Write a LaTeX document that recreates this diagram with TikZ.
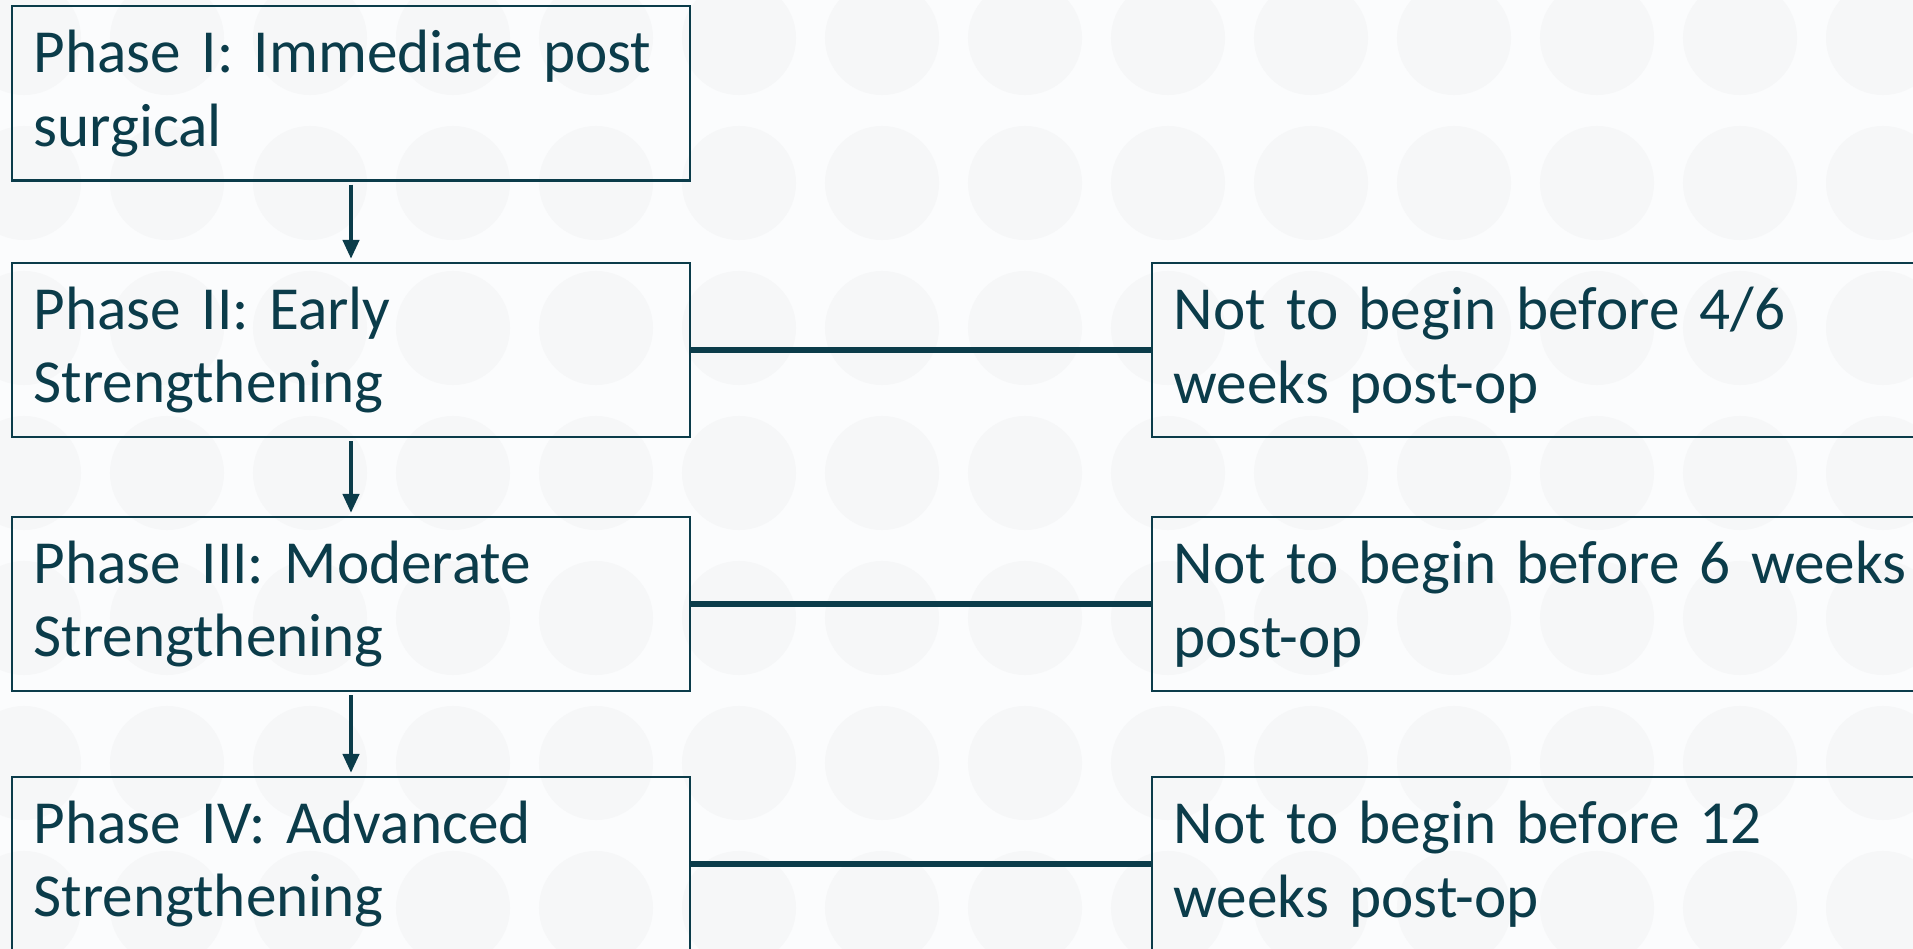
\documentclass[tikz,border=0pt]{standalone}
\usepackage{fontspec}
\setmainfont{Carlito}
\usepackage{tikz}
\usetikzlibrary{arrows.meta,positioning}

\definecolor{phaseink}{HTML}{0B3C4A}
\definecolor{slidebg}{HTML}{FBFCFD}
\definecolor{dotgray}{HTML}{F6F7F8}

\tikzset{
    phasebox/.style={draw=phaseink,line width=0.6pt,text=phaseink,
        minimum width=6.78cm,minimum height=1.74cm,
        text width=6.34cm,inner xsep=0.22cm,align=left,
        font=\fontsize{17.4}{21}\selectfont},
    notebox/.style={phasebox,anchor=west,minimum width=8cm,text width=7.56cm},
    nextphase/.style={draw=phaseink,line width=1.2pt,
        -{Triangle[length=0.19cm,width=0.16cm]},
        shorten <=0.03cm,shorten >=0.03cm},
    timeline/.style={draw=phaseink,line width=1.5pt}
}

\begin{document}
\begin{tikzpicture}[x=0.01cm,y=-0.01cm]

\clip (0,0) rectangle (1913,949);
\fill[slidebg] (0,0) rectangle (1913,949);

% faint dots in the background
\foreach \i in {0,...,13}
    \foreach \j in {0,...,6}
        \fill[dotgray] (24+143*\i,38+145*\j) circle (0.57cm);

% phases
\node[phasebox] at (351,93.5) (p1) {Phase I: Immediate post\\surgical};
\node[phasebox] at (351,350) (p2) {Phase II: Early\\Strengthening};
\node[phasebox] at (351,604) (p3) {Phase III: Moderate\\Strengthening};
\node[phasebox] at (351,864) (p4) {Phase IV: Advanced\\Strengthening};

% earliest start
\node[notebox,right=4.59cm of p2.east] (n2) {Not to begin before 4/6\\weeks post-op};
\node[notebox,right=4.59cm of p3.east] (n3) {Not to begin before 6 weeks\\post-op};
\node[notebox,right=4.59cm of p4.east] (n4) {Not to begin before 12\\weeks post-op};

\draw[nextphase] (p1) -- (p2);
\draw[nextphase] (p2) -- (p3);
\draw[nextphase] (p3) -- (p4);

\draw[timeline] (p2.east) -- (n2.west);
\draw[timeline] (p3.east) -- (n3.west);
\draw[timeline] (p4.east) -- (n4.west);

\end{tikzpicture}
\end{document}
